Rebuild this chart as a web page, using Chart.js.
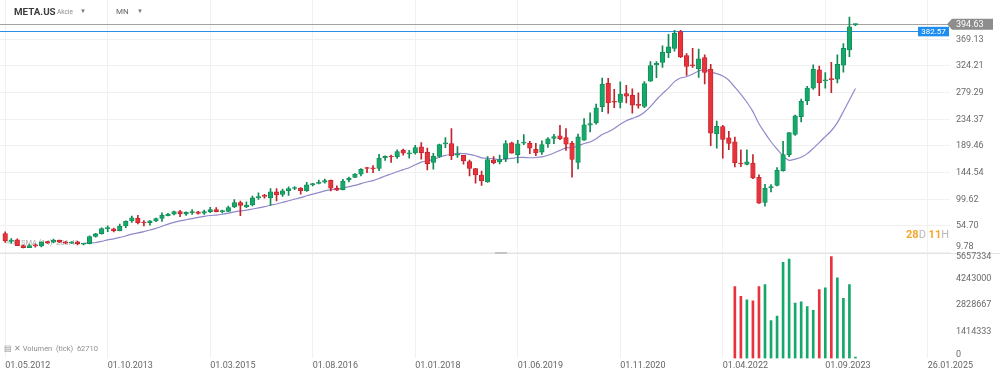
<!DOCTYPE html>
<html><head><meta charset="utf-8">
<script src="https://cdn.jsdelivr.net/npm/chart.js@4.4.1/dist/chart.umd.min.js"></script>
<style>
html,body{margin:0;padding:0;background:#fff;}
#wrap{position:relative;width:1000px;height:377px;overflow:hidden;font-family:Roboto,"Open Sans",sans-serif;background:#fff;}
#c{position:absolute;left:0;top:0;}
.hd{position:absolute;white-space:nowrap;line-height:1;}
</style></head><body>
<div id="wrap">
<canvas id="c" width="1000" height="377"></canvas>
<div class="hd" style="left:14px;top:7px;font-size:9.8px;font-weight:700;color:#3d3d3d;">META.US</div>
<div class="hd" style="left:57px;top:9px;font-size:6.5px;color:#8a8a8a;">Akcie</div>
<div class="hd" style="left:80px;top:8px;font-size:6px;color:#777;">▼</div>
<div class="hd" style="left:116px;top:8px;font-size:8px;color:#666;">MN</div>
<div class="hd" style="left:137px;top:8px;font-size:6px;color:#777;">▼</div>
<div class="hd" style="left:906px;top:229px;font-size:11px;font-weight:700;"><span style="color:#f4a72a">28</span><span style="color:#b9b9b9;font-weight:400">D </span><span style="color:#f4a72a">11</span><span style="color:#b9b9b9;font-weight:400">H</span></div>
<div class="hd" style="left:4px;top:345px;font-size:7.5px;color:#8f8f8f;">▤ ✕ Volumen&nbsp; (tick)&nbsp; 62710</div>
</div>
<script>
// ---- data (monthly candles, index 0 = 05.2012) ----
const months = ['2012-05','2012-06','2012-07','2012-08','2012-09','2012-10','2012-11','2012-12',
'2013-01','2013-02','2013-03','2013-04','2013-05','2013-06','2013-07','2013-08','2013-09','2013-10','2013-11','2013-12',
'2014-01','2014-02','2014-03','2014-04','2014-05','2014-06','2014-07','2014-08','2014-09','2014-10','2014-11','2014-12',
'2015-01','2015-02','2015-03','2015-04','2015-05','2015-06','2015-07','2015-08','2015-09','2015-10','2015-11','2015-12',
'2016-01','2016-02','2016-03','2016-04','2016-05','2016-06','2016-07','2016-08','2016-09','2016-10','2016-11','2016-12',
'2017-01','2017-02','2017-03','2017-04','2017-05','2017-06','2017-07','2017-08','2017-09','2017-10','2017-11','2017-12',
'2018-01','2018-02','2018-03','2018-04','2018-05','2018-06','2018-07','2018-08','2018-09','2018-10','2018-11','2018-12',
'2019-01','2019-02','2019-03','2019-04','2019-05','2019-06','2019-07','2019-08','2019-09','2019-10','2019-11','2019-12',
'2020-01','2020-02','2020-03','2020-04','2020-05','2020-06','2020-07','2020-08','2020-09','2020-10','2020-11','2020-12',
'2021-01','2021-02','2021-03','2021-04','2021-05','2021-06','2021-07','2021-08','2021-09','2021-10','2021-11','2021-12',
'2022-01','2022-02','2022-03','2022-04','2022-05','2022-06','2022-07','2022-08','2022-09','2022-10','2022-11','2022-12',
'2023-01','2023-02','2023-03','2023-04','2023-05','2023-06','2023-07','2023-08','2023-09','2023-10','2023-11','2023-12',
'2024-01','2024-02'];

const opens = [42.05,28.89,31.25,21.50,18.08,21.95,21.08,27.95,27.44,31.01,
27.05,25.63,27.85,24.27,24.97,37.30,41.84,50.14,49.97,46.90,
54.83,63.03,67.74,60.46,60.43,63.23,67.58,72.22,74.60,78.78,
74.80,77.26,78.58,76.11,79.00,82.50,79.00,79.30,86.77,94.12,
86.85,90.05,101.98,104.83,101.95,112.27,107.83,114.25,117.83,118.50,
114.20,124.00,126.38,128.38,131.41,118.38,116.03,132.25,136.47,141.93,
151.74,151.75,151.72,169.82,172.40,171.39,182.36,176.03,177.68,188.22,
179.01,161.57,172.00,193.07,193.37,173.93,173.50,163.03,151.52,140.32,
128.99,165.84,162.60,167.83,194.78,175.00,194.03,194.01,184.00,179.16,
192.85,202.13,206.75,203.44,194.03,161.62,199.30,224.59,228.50,255.82,
295.06,264.09,262.61,277.68,274.78,259.52,256.00,298.65,325.93,330.15,
346.82,353.61,382.05,341.61,326.04,319.56,338.30,319.00,209.87,222.11,
203.00,196.51,160.31,158.58,160.65,136.76,94.33,119.20,122.82,148.03,
174.59,208.84,238.62,265.90,286.70,317.54,299.37,302.74,301.85,325.48,
351.32,393.94];

const highs = [45.00,33.45,32.88,22.45,23.37,24.25,28.00,28.88,32.51,31.02,
28.98,28.62,28.83,25.61,37.96,42.26,51.60,54.83,51.00,57.96,
63.37,71.44,72.59,63.91,63.95,68.00,76.74,75.99,79.71,81.16,
78.40,82.17,79.25,81.37,86.07,85.59,81.49,88.40,99.24,96.49,
95.30,105.12,110.65,107.92,117.59,117.84,116.99,120.79,121.08,119.44,
128.33,126.73,131.98,133.50,131.94,122.50,133.14,137.18,142.95,151.53,
153.60,156.50,175.49,173.05,174.00,182.90,184.25,182.28,190.66,195.32,
186.10,177.10,192.72,203.55,218.62,188.30,173.89,165.88,151.75,147.19,
171.68,171.70,174.30,198.48,196.18,198.88,208.66,197.15,193.82,198.09,
203.80,208.93,224.20,218.77,197.24,209.69,235.48,245.19,260.00,304.00,
303.60,285.00,297.47,291.78,285.73,278.96,298.00,331.81,331.81,358.14,
377.55,384.33,384.33,345.00,353.83,352.71,343.09,327.03,231.45,224.10,
214.30,204.40,183.15,183.10,175.00,141.00,124.67,124.37,153.20,197.16,
212.17,241.69,268.65,289.79,326.20,324.14,312.87,330.54,342.92,361.90,
406.36,395.00];

const lows = [26.83,25.52,21.61,17.55,18.03,18.80,19.62,25.15,26.11,26.68,
24.72,25.50,23.01,22.79,24.40,35.89,41.05,45.26,44.82,46.52,
51.85,60.70,57.98,54.66,56.26,61.79,62.21,71.55,73.53,70.32,
72.51,74.00,74.51,74.26,77.26,78.52,76.66,78.76,85.43,72.00,
85.55,88.36,99.28,101.46,89.37,96.82,104.40,106.31,115.88,108.23,
112.97,122.07,125.60,126.75,113.55,114.00,115.51,128.83,136.11,138.81,
144.42,144.56,147.80,165.00,161.56,168.29,174.00,168.90,175.80,167.18,
149.02,150.51,170.23,186.43,166.56,170.27,158.87,139.03,126.85,123.02,
127.88,159.31,159.28,163.04,177.16,160.84,191.85,176.66,173.32,175.19,
187.08,193.13,200.10,181.82,137.10,150.83,198.76,213.20,226.16,247.43,
244.13,254.00,253.72,262.00,244.61,253.13,254.01,298.31,304.51,321.70,
338.13,349.21,338.09,308.11,321.92,305.01,294.12,190.04,185.82,169.00,
183.32,154.25,154.54,157.48,134.50,92.60,88.09,111.87,122.28,147.06,
171.42,207.13,229.85,258.88,284.85,274.38,286.79,279.40,295.50,313.66,
340.01,392.00];

const closes = [29.60,31.10,21.71,18.06,21.66,21.11,28.00,26.62,30.98,27.25,
25.58,27.77,24.35,24.88,36.80,41.29,50.23,50.21,47.01,54.65,
62.57,68.46,60.24,59.78,63.30,67.29,72.65,74.82,79.04,74.99,
77.70,78.02,75.91,78.97,82.22,78.77,79.19,85.77,94.01,89.43,
89.90,101.97,104.24,104.66,112.21,106.92,114.10,117.58,118.81,114.28,
123.94,126.12,128.27,130.99,118.42,115.05,130.32,135.54,142.05,150.25,
151.46,150.98,169.25,171.97,170.87,180.06,177.18,176.46,186.89,178.32,
159.79,172.00,191.78,194.32,172.58,175.73,164.46,151.79,140.61,131.09,
166.69,161.45,166.69,193.40,177.47,193.00,194.23,185.67,178.08,191.65,
201.64,205.25,201.91,192.47,166.80,204.71,225.09,227.07,253.67,293.20,
261.90,263.11,276.97,273.16,258.33,257.62,294.53,325.08,328.73,347.71,
356.30,379.38,339.39,323.57,324.46,336.35,313.26,211.03,222.36,200.47,
193.64,161.25,159.10,162.93,135.68,93.16,118.10,120.34,148.97,174.94,
211.94,240.32,264.72,286.98,318.60,295.89,300.21,301.27,327.15,353.96,
390.14,394.63];

// moving average (14), starting at month index 13
const maStart = 13;
const maValues = [25.62,26.13,26.86,28.90,31.20,33.01,35.40,37.87,40.86,42.95,
45.27,47.97,50.79,54.24,57.81,60.82,63.23,65.19,67.18,69.24,
70.98,72.39,73.12,74.48,76.33,78.53,80.11,81.34,83.28,85.08,
87.20,89.66,91.73,94.45,97.21,99.83,102.36,105.56,108.44,110.89,
113.86,115.89,116.83,118.69,120.90,123.03,126.12,128.79,131.18,134.78,
138.90,142.25,146.11,149.60,152.85,157.74,162.26,164.36,166.97,170.52,
173.67,175.18,176.94,176.60,175.16,173.00,169.50,168.75,167.68,166.24,
167.31,168.58,170.08,170.25,169.63,170.03,171.16,173.82,177.64,182.02,
186.40,186.41,189.50,193.67,196.07,201.52,208.67,213.51,219.04,226.10,
231.93,235.97,239.72,246.33,255.80,267.37,277.58,286.96,297.84,303.96,
306.13,310.60,315.83,318.42,313.98,311.41,307.33,300.12,288.42,276.30,
263.11,247.35,226.90,211.10,196.58,184.05,172.52,165.28,167.37,170.40,
176.58,185.50,195.12,205.20,215.08,228.76,247.39,266.82,286.41];

// tick volume (shown only for the latest months), starting at month index 121
const volStart = 121;
const volumes = [3824000,3300000,3120000,3060000,3820000,3920000,2010000,2250000,5110000,5280000,
2940000,3010000,2760000,2560000,3660000,3750000,5420000,4280000,3190000,3920000,70000];

// axis tick labels
const dateTickIdx = [0,17,34,51,68,85,102,119,136,153];
const dateTickLabels = ['01.05.2012','01.10.2013','01.03.2015','01.08.2016','01.01.2018','01.06.2019','01.11.2020','01.04.2022','01.09.2023','26.01.2025'];
const priceTicks = [9.78,54.70,99.62,144.54,189.46,234.37,279.29,324.21,369.13];
const volTicks = [0,1414333,2828667,4243000,5657334];
const lastPrice = 394.63;
const alertPrice = 382.57;
const maLegend = 'SMA (14)  286.41';

// ---- styling ----
const GREEN = '#16a86a', GREEN_D = '#0f8a55';
const RED = '#e8333c', RED_D = '#c2232c';
const up = closes.map((c,i)=> c >= opens[i]);

const wickData = months.map((m,i)=>({x:i, y:[lows[i], highs[i]]}));
const bodyData = months.map((m,i)=>({x:i, y:[opens[i], closes[i]]}));
const maData = maValues.map((v,k)=>({x:maStart+k, y:v}));
const volData = volumes.map((v,k)=>({x:volStart+k, y:v}));
const volColors = volumes.map((v,k)=> up[volStart+k] ? GREEN : RED);

Chart.defaults.font.family = 'Roboto, "Open Sans", sans-serif';

const overlay = {
  id: 'overlay',
  beforeDatasetsDraw(chart){
    const ctx = chart.ctx, y = chart.scales.y, a = chart.chartArea;
    const paneBottom = y.getPixelForValue(priceTicks[0]);
    ctx.save();
    ctx.font = '7.5px Roboto'; ctx.fillStyle = '#a8a8a8'; ctx.textBaseline = 'middle';
    ctx.fillText('≡ ✕ ' + maLegend, 6, paneBottom - 10);
    ctx.strokeStyle = '#e3e3e3'; ctx.lineWidth = 1;
    ctx.beginPath(); ctx.moveTo(0, Math.round(paneBottom)+0.5); ctx.lineTo(1000, Math.round(paneBottom)+0.5); ctx.stroke();
    ctx.strokeStyle = '#c4c4c4'; ctx.lineWidth = 2;
    ctx.beginPath(); ctx.moveTo(495, Math.round(paneBottom)); ctx.lineTo(507, Math.round(paneBottom)); ctx.stroke();
    const yl = Math.round(y.getPixelForValue(lastPrice)) + 0.5;
    ctx.lineWidth = 1; ctx.strokeStyle = '#a3a3a3';
    ctx.beginPath(); ctx.moveTo(0, yl); ctx.lineTo(a.right - 2, yl); ctx.stroke();
    const ya = Math.round(y.getPixelForValue(alertPrice)) + 0.5;
    ctx.strokeStyle = '#2a8de8';
    ctx.beginPath(); ctx.moveTo(0, ya); ctx.lineTo(a.right - 32, ya); ctx.stroke();
    ctx.restore();
  },
  afterDraw(chart){
    const ctx = chart.ctx, y = chart.scales.y, v = chart.scales.yv, a = chart.chartArea;
    const paneBottom = y.getPixelForValue(priceTicks[0]);
    ctx.save();
    ctx.font = '9px Roboto'; ctx.fillStyle = '#6a6a6a'; ctx.textAlign = 'left'; ctx.textBaseline = 'middle';
    priceTicks.forEach(p=>{
      let py = Math.min(y.getPixelForValue(p), paneBottom - 6);
      ctx.fillText(p.toFixed(2), a.right + 6, py);
    });
    volTicks.forEach(t=>{
      let py = v.getPixelForValue(t);
      py = Math.max(py, paneBottom + 4); py = Math.min(py, a.bottom - 4);
      ctx.fillText(String(t), a.right + 6, py);
    });
    const yl = y.getPixelForValue(lastPrice);
    ctx.fillStyle = '#8d8d8d';
    ctx.beginPath();
    ctx.moveTo(a.right - 3, yl);
    ctx.lineTo(a.right + 2, yl - 5.5); ctx.lineTo(a.right + 43, yl - 5.5);
    ctx.lineTo(a.right + 43, yl + 5.5); ctx.lineTo(a.right + 2, yl + 5.5);
    ctx.closePath(); ctx.fill();
    ctx.fillStyle = '#fff'; ctx.font = '9px Roboto';
    ctx.fillText(lastPrice.toFixed(2), a.right + 6, yl + 0.5);
    const ya = y.getPixelForValue(alertPrice);
    ctx.fillStyle = '#1d8ef0';
    ctx.fillRect(a.right - 32, ya - 4.5, 31, 9.5);
    ctx.fillStyle = '#fff'; ctx.font = '8px Roboto'; ctx.textAlign = 'center';
    ctx.fillText(alertPrice.toFixed(2), a.right - 16.5, ya + 0.5);
    ctx.restore();
  }
};

new Chart(document.getElementById('c'), {
  type: 'bar',
  data: {
    datasets: [
      { type:'line', label:'MA', data: maData, yAxisID:'y', borderColor:'#8f89cb', borderWidth:1.2,
        pointRadius:0, tension:0.2, fill:false, order:3 },
      { label:'wick', data: wickData, yAxisID:'y', grouped:false, barThickness:1,
        backgroundColor: up.map(u=> u ? GREEN_D : RED_D), borderWidth:0, order:2 },
      { label:'body', data: bodyData, yAxisID:'y', grouped:false, barThickness:4.6, minBarLength:1,
        backgroundColor: up.map(u=> u ? GREEN : RED), borderColor: up.map(u=> u ? GREEN_D : RED_D),
        borderWidth:0.8, borderSkipped:false, order:1 },
      { label:'volume', data: volData, yAxisID:'yv', grouped:false, barThickness:2,
        backgroundColor: volColors, borderWidth:0, order:1 }
    ]
  },
  options: {
    responsive:false, animation:false, devicePixelRatio:1,
    layout:{ padding:0 },
    plugins:{ legend:{display:false}, tooltip:{enabled:false} },
    scales: {
      x: {
        type:'linear', min:-0.862, max:156.68, position:'bottom', offset:false, bounds:'ticks',
        afterBuildTicks: s => { s.ticks = dateTickIdx.map(v=>({value:v})); },
        afterFit: s => { s.height = 18.6; },
        ticks:{ autoSkip:false, maxRotation:0, align:'start', padding:2, color:'#666', font:{size:9},
          callback: (val) => { const k = dateTickIdx.indexOf(val); return k >= 0 ? dateTickLabels[k] : ''; } },
        grid:{ color:'#f1f1f1', drawTicks:false, offset:false },
        border:{ display:false }
      },
      y: {
        type:'linear', position:'right', min:-168.34, max:435.33,
        afterBuildTicks: s => { s.ticks = priceTicks.map(v=>({value:v})); },
        afterFit: s => { s.width = 50; },
        ticks:{ display:false },
        grid:{ color:'#f1f1f1', drawTicks:false },
        border:{ display:false }
      },
      yv: {
        type:'linear', position:'right', display:false, min:0, max:19056000
      }
    }
  },
  plugins:[overlay]
});
</script>
</body></html>
